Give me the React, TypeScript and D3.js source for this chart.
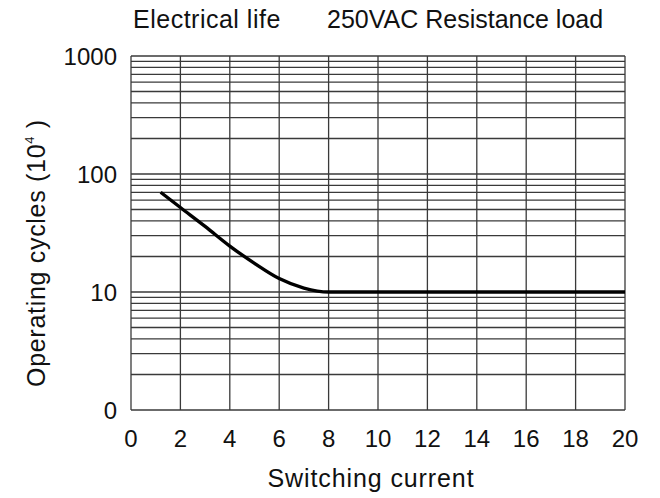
import * as d3 from 'd3';

// Curve (switching current in A, cycles in 10^4)
const current = [1.2, 2, 3, 4, 5, 6, 7, 8, 10, 14, 20];
const cycles = [70, 52, 36, 24.5, 17.5, 13, 10.8, 10, 10, 10, 10];

const xTicks = [0, 2, 4, 6, 8, 10, 12, 14, 16, 18, 20];
const yTicks = [1, 10, 100, 1000];
const yTickLabels = ['0', '10', '100', '1000'];

const WIDTH = 660;
const HEIGHT = 498;
const margin = { top: 56, right: 35, bottom: 88, left: 131 };
const FONT = '"Liberation Sans", Arial, Helvetica, sans-serif';

const App = () => {
  const x = d3.scaleLinear().domain([0, 20]).range([margin.left, WIDTH - margin.right]);
  const y = d3.scaleLog().domain([1, 1000]).range([HEIGHT - margin.bottom, margin.top]);

  // minor grid: 1..9 in every decade plus the top line
  const gridY: number[] = [];
  [1, 10, 100].forEach((d) => {
    for (let k = 1; k <= 9; k++) gridY.push(d * k);
  });
  gridY.push(1000);

  const line = d3
    .line<number>()
    .x((_, i) => x(current[i]))
    .y((d) => y(d))
    .curve(d3.curveMonotoneX);

  const [x0, x1] = x.range();
  const [y0, y1] = y.range();

  return (
    <svg
      width={WIDTH}
      height={HEIGHT}
      style={{ position: 'absolute', left: 0, top: 0, background: '#fff' }}
      fontFamily={FONT}
    >
      <g fontSize={25} fill="#111">
        <text x={133} y={28} letterSpacing={0.5}>Electrical life</text>
        <text x={327} y={28}>250VAC Resistance load</text>
      </g>

      <g stroke="#3a3a3a" strokeWidth={1.3}>
        {gridY.map((v) => (
          <line key={'h' + v} x1={x0} x2={x1} y1={y(v)} y2={y(v)} />
        ))}
        {xTicks.map((v) => (
          <line key={'v' + v} x1={x(v)} x2={x(v)} y1={y0} y2={y1} />
        ))}
      </g>

      <path d={line(cycles) || ''} fill="none" stroke="#000" strokeWidth={3.4} />

      <g fontSize={24} fill="#111">
        {yTicks.map((v, i) => (
          <text key={v} x={x0 - 14} y={y(v)} dy="0.36em" textAnchor="end">
            {yTickLabels[i]}
          </text>
        ))}
        {xTicks.map((v) => (
          <text key={v} x={x(v)} y={447} textAnchor="middle">
            {v}
          </text>
        ))}
      </g>

      <text x={371} y={487} fontSize={25} letterSpacing={0.9} textAnchor="middle" fill="#111">
        Switching current
      </text>

      <text
        transform={`translate(45, 387) rotate(-90)`}
        fontSize={25}
        letterSpacing={0.7}
        fill="#111"
      >
        Operating cycles (10
        <tspan fontSize={13} dy={-11}>4</tspan>
        <tspan dy={11}>{' )'}</tspan>
      </text>
    </svg>
  );
};

export default App;
